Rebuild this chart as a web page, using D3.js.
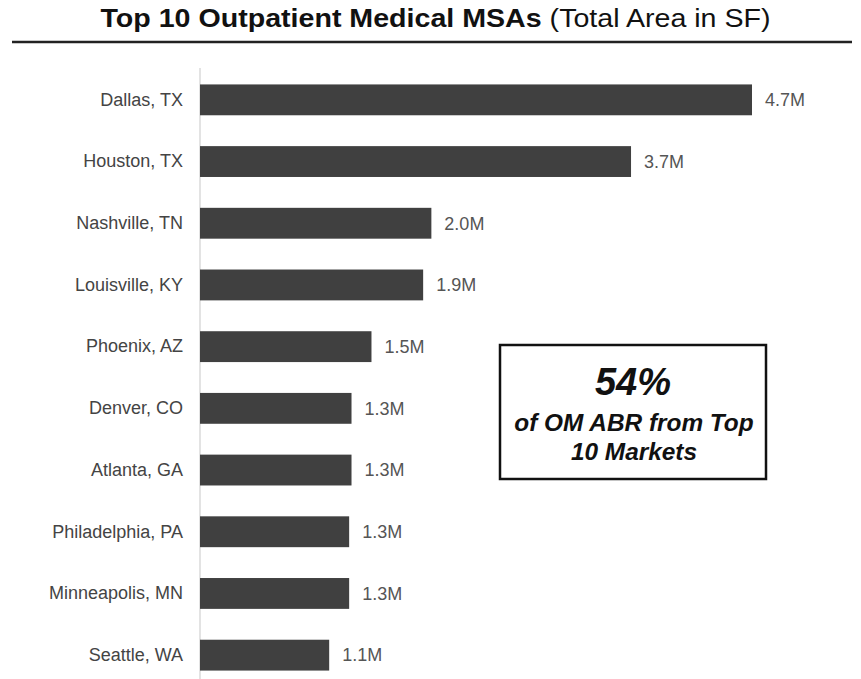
<!DOCTYPE html>
<meta charset="utf-8">
<script src="https://d3js.org/d3.v7.min.js"></script>
<style>
  body { margin: 0; background: #fff; }
  text { font-family: "Liberation Sans", Arial, sans-serif; }
</style>
<div id="chart"></div>
<script>
// data
const markets = ["Dallas, TX", "Houston, TX", "Nashville, TN", "Louisville, KY", "Phoenix, AZ",
  "Denver, CO", "Atlanta, GA", "Philadelphia, PA", "Minneapolis, MN", "Seattle, WA"];
const areaM = [4.70, 3.67, 1.97, 1.90, 1.46, 1.29, 1.29, 1.27, 1.27, 1.10];
const calloutBig = "54%";
const calloutLines = ["of OM ABR from Top", "10 Markets"];

const W = 861, H = 679;
const svg = d3.select("#chart").append("svg")
  .attr("width", W).attr("height", H);

// title (the original is a bit stretched sideways)
const title = svg.append("text")
  .attr("transform", "translate(435.5,27) scale(1.1,1)")
  .attr("text-anchor", "middle")
  .style("font-size", "26px")
  .attr("fill", "#111");
title.append("tspan").attr("font-weight", "bold").text("Top 10 Outpatient Medical MSAs");
title.append("tspan").text(" (Total Area in SF)");

svg.append("line")
  .attr("x1", 12).attr("x2", 852)
  .attr("y1", 42).attr("y2", 42)
  .attr("stroke", "#222").attr("stroke-width", 2.5);

// scales
const data = markets.map((m, i) => ({ market: m, value: areaM[i] }));
const x = d3.scaleLinear().domain([0, 4.7]).range([200, 752]);
const y = d3.scaleBand().domain(markets).range([69, 686]).paddingInner(0.5).paddingOuter(0.25);

// axis line
svg.append("line")
  .attr("x1", 200).attr("x2", 200)
  .attr("y1", 68).attr("y2", H)
  .attr("stroke", "#d0d0d0").attr("stroke-width", 1.2);

// category labels
const yAxis = svg.append("g")
  .attr("transform", "translate(200,0)")
  .call(d3.axisLeft(y).tickSize(0).tickPadding(17));
yAxis.select(".domain").remove();
yAxis.selectAll("text")
  .style("font-size", "18px")
  .style("font-family", "'Liberation Sans', Arial, sans-serif")
  .attr("fill", "#444");

// bars
svg.selectAll("rect.bar")
  .data(data)
  .join("rect")
  .attr("class", "bar")
  .attr("x", x(0))
  .attr("y", d => y(d.market))
  .attr("width", d => x(d.value) - x(0))
  .attr("height", y.bandwidth())
  .attr("fill", "#404040");

// value labels
const fmt = d3.format(".1f");
svg.selectAll("text.val")
  .data(data)
  .join("text")
  .attr("class", "val")
  .attr("x", d => x(d.value) + 13)
  .attr("y", d => y(d.market) + y.bandwidth() / 2)
  .attr("dy", "0.35em")
  .style("font-size", "18px")
  .attr("fill", "#555")
  .text(d => fmt(d.value) + "M");

// callout box
const box = svg.append("g");
box.append("rect")
  .attr("x", 500).attr("y", 345)
  .attr("width", 266).attr("height", 134)
  .attr("fill", "#fff").attr("stroke", "#111").attr("stroke-width", 2.5);
box.append("text")
  .attr("x", 633).attr("y", 395)
  .attr("text-anchor", "middle")
  .attr("font-weight", "bold").attr("font-style", "italic")
  .style("font-size", "38px")
  .attr("fill", "#111")
  .text(calloutBig);
box.selectAll("text.line")
  .data(calloutLines)
  .join("text")
  .attr("class", "line")
  .attr("x", 634)
  .attr("y", (d, i) => 431 + i * 29)
  .attr("text-anchor", "middle")
  .attr("font-weight", "bold").attr("font-style", "italic")
  .style("font-size", "24.4px")
  .attr("fill", "#111")
  .text(d => d);
</script>
